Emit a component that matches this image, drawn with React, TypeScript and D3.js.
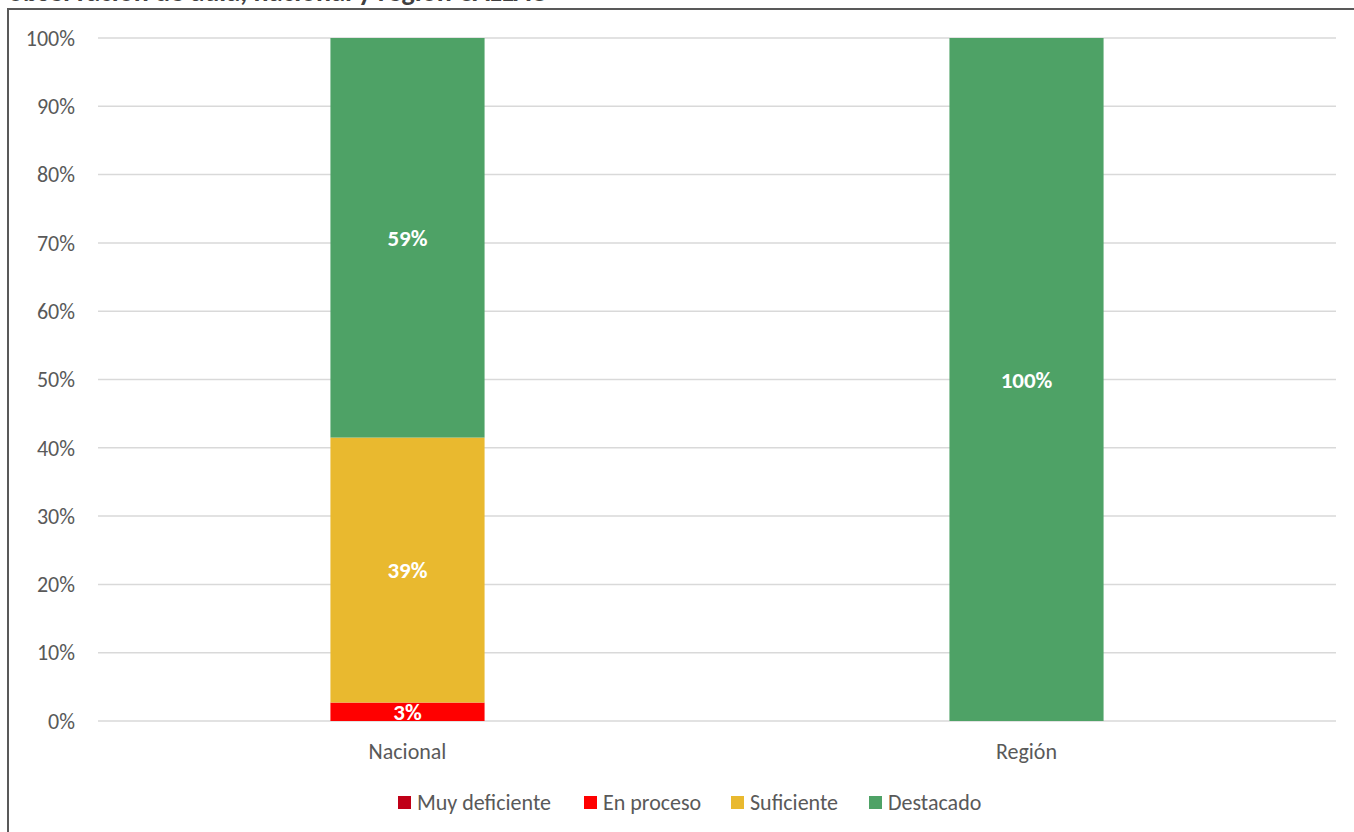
import React from "react";
import * as d3 from "d3";

const categories = ["Nacional", "Región"];
const seriesNames = ["Muy deficiente", "En proceso", "Suficiente", "Destacado"];
const seriesColors = ["#C00018", "#FF0000", "#E9B92F", "#4EA266"];
const muyDeficiente = [0, 0];
const enProceso = [0.027, 0];
const suficiente = [0.388, 0];
const destacado = [0.585, 1.0];
const labelsNacional = ["", "3%", "39%", "59%"];
const labelsRegion = ["", "", "", "100%"];
const yTicks = [0, 0.1, 0.2, 0.3, 0.4, 0.5, 0.6, 0.7, 0.8, 0.9, 1.0];
const title = "observación de aula, nacional y región CALLAO";

export default function App() {
  const W = 1354, H = 832;
  const left = 98, right = 1336, top = 38, bottom = 721;
  const x = d3.scaleBand<string>().domain(categories).range([left, right]).paddingInner(0.751).paddingOuter(0.3755);
  const y = d3.scaleLinear().domain([0, 1]).range([bottom, top]);
  const rows = categories.map((c, i) => ({
    cat: c,
    "Muy deficiente": muyDeficiente[i],
    "En proceso": enProceso[i],
    "Suficiente": suficiente[i],
    "Destacado": destacado[i],
  }));
  const stack = d3.stack<any>().keys(seriesNames)(rows);
  const labels = [labelsNacional, labelsRegion];
  const font = "Carlito, Calibri, Lato, 'Open Sans', sans-serif";
  const legendX = [398, 584, 731, 869];
  return (
    <svg width={W} height={H} style={{ position: "absolute", left: 0, top: 0, display: "block", background: "#fff" }} fontFamily={font}>
      <text x={8} y={1} fontSize={28} fontWeight="bold" fill="#404040">{title}</text>
      <rect x={8} y={9} width={W} height={H} fill="none" stroke="#595959" strokeWidth={2} />
      {yTicks.map((t) => (
        <g key={t}>
          <line x1={left} x2={right} y1={y(t)} y2={y(t)} stroke="#D9D9D9" strokeWidth={1.5} />
          <text x={75} y={y(t)} dy="0.35em" textAnchor="end" fontSize={22} fill="#595959">{d3.format(".0%")(t)}</text>
        </g>
      ))}
      {stack.map((s, si) => (
        <g key={s.key} fill={seriesColors[si]}>
          {s.map((d, ci) => {
            const h = y(d[0]) - y(d[1]);
            if (h <= 0) return null;
            return <rect key={ci} x={x(categories[ci])!} width={x.bandwidth()} y={y(d[1])} height={h} />;
          })}
        </g>
      ))}
      {stack.map((s, si) => (
        <g key={"l" + s.key}>
          {s.map((d, ci) => {
            const lab = labels[ci][si];
            if (!lab) return null;
            return (
              <text key={ci} x={x(categories[ci])! + x.bandwidth() / 2} y={(y(d[0]) + y(d[1])) / 2} dy="0.35em" textAnchor="middle" fontSize={23} fontWeight="bold" fill="#fff">{lab}</text>
            );
          })}
        </g>
      ))}
      {categories.map((c) => (
        <text key={c} x={x(c)! + x.bandwidth() / 2} y={751} dy="0.35em" textAnchor="middle" fontSize={22} fill="#595959">{c}</text>
      ))}
      {seriesNames.map((n, i) => (
        <g key={n}>
          <rect x={legendX[i]} y={796} width={13} height={13} fill={seriesColors[i]} />
          <text x={legendX[i] + 19} y={802} dy="0.35em" fontSize={22} fill="#595959">{n}</text>
        </g>
      ))}
    </svg>
  );
}
